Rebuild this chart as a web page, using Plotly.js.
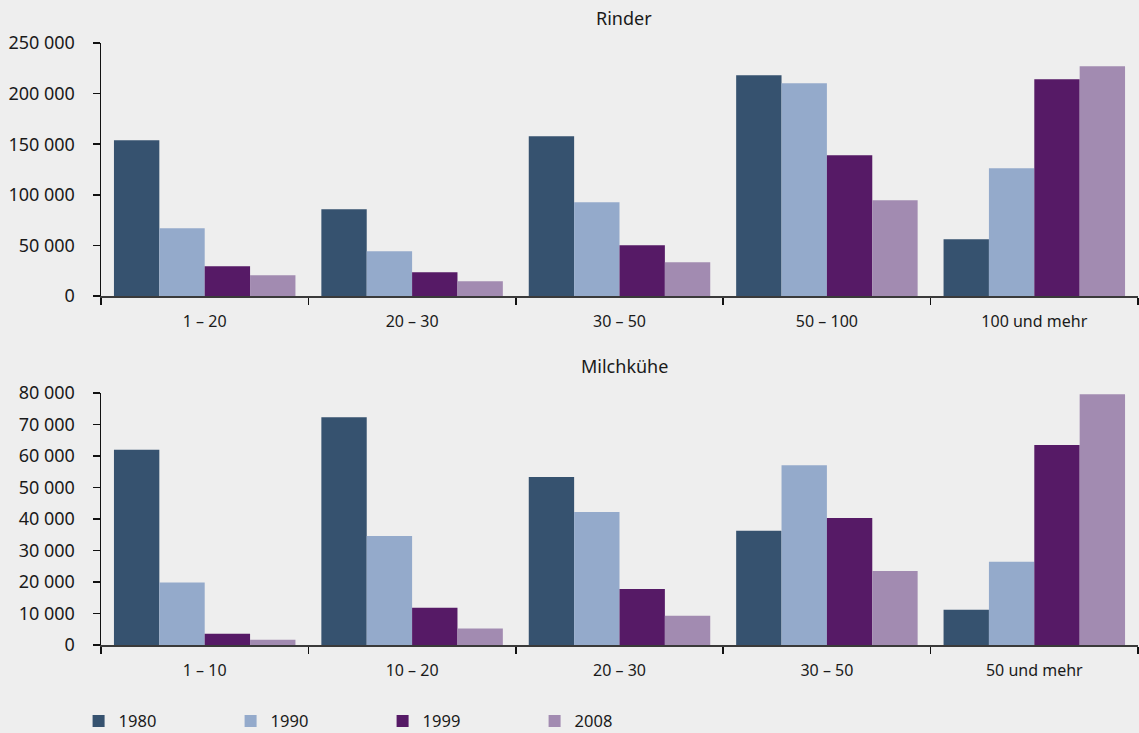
<!DOCTYPE html>
<html>
<head>
<meta charset="utf-8">
<script src="https://cdn.plot.ly/plotly-3.0.1.min.js"></script>
<style>
html,body{margin:0;padding:0;background:#eeeeee;}
#chart{width:1139px;height:733px;}
</style>
</head>
<body>
<div id="chart"></div>
<script>
// Data
const years = ['1980', '1990', '1999', '2008'];
const colors = ['#36526f', '#94aacb', '#561a66', '#a28bb1'];

const rinderCategories = ['1 – 20', '20 – 30', '30 – 50', '50 – 100', '100 und mehr'];
const rinder1980 = [154000, 85700, 157800, 218100, 56000];
const rinder1990 = [66900, 44200, 92600, 210200, 126200];
const rinder1999 = [29300, 23400, 50100, 139000, 214100];
const rinder2008 = [20400, 14500, 33300, 94600, 227000];

const milchCategories = ['1 – 10', '10 – 20', '20 – 30', '30 – 50', '50 und mehr'];
const milch1980 = [61900, 72200, 53300, 36200, 11200];
const milch1990 = [19800, 34600, 42200, 57000, 26400];
const milch1999 = [3600, 11800, 17800, 40300, 63400];
const milch2008 = [1700, 5200, 9300, 23500, 79500];

const rinderTitle = 'Rinder';
const milchTitle = 'Milchkühe';

const rinderSeries = [rinder1980, rinder1990, rinder1999, rinder2008];
const milchSeries = [milch1980, milch1990, milch1999, milch2008];

const traces = [];
years.forEach((y, i) => {
  traces.push({
    type: 'bar', name: y, x: rinderCategories, y: rinderSeries[i],
    xaxis: 'x', yaxis: 'y', marker: {color: colors[i], line: {width: 0}},
    legendgroup: y, showlegend: true, hoverinfo: 'x+y'
  });
});
years.forEach((y, i) => {
  traces.push({
    type: 'bar', name: y, x: milchCategories, y: milchSeries[i],
    xaxis: 'x2', yaxis: 'y2', marker: {color: colors[i], line: {width: 0}},
    legendgroup: y, showlegend: false, hoverinfo: 'x+y'
  });
});

const fontFam = '"Noto Sans", "Open Sans", sans-serif';
const xCommon = {
  type: 'category', showgrid: false, zeroline: false,
  showline: true, linecolor: '#3a3a3a', linewidth: 1.5,
  ticks: 'outside', tickson: 'boundaries', ticklen: 7, tickwidth: 1.5, tickcolor: '#111',
  ticklabelstandoff: 10,
  tickfont: {size: 16, color: '#1a1a1a', family: fontFam}, fixedrange: true
};
const yCommon = {
  showgrid: false, zeroline: false, showline: true, linecolor: '#111', linewidth: 1.5,
  ticks: 'outside', ticklen: 7, tickwidth: 1.5, tickcolor: '#111',
  ticklabelstandoff: 14,
  tickformat: ',d', tickfont: {size: 18, color: '#1a1a1a', family: fontFam}, fixedrange: true
};

const layout = {
  width: 1139, height: 733,
  paper_bgcolor: '#eeeeee', plot_bgcolor: '#eeeeee',
  font: {family: fontFam, color: '#1a1a1a'},
  separators: ', ',
  barmode: 'group', bargap: 0.125, bargroupgap: 0,
  margin: {l: 101, r: 1, t: 43, b: 88, autoexpand: false},
  showlegend: true,
  legend: {
    orientation: 'h', xref: 'container', yref: 'container',
    x: 0.069, xanchor: 'left', y: 0.016, yanchor: 'middle',
    entrywidth: 107, entrywidthmode: 'pixels',
    font: {size: 16.5, color: '#1a1a1a', family: fontFam},
    bgcolor: 'rgba(0,0,0,0)', traceorder: 'normal'
  },
  xaxis: Object.assign({}, xCommon, {domain: [0, 1], anchor: 'y'}),
  yaxis: Object.assign({}, yCommon, {domain: [0.5797, 1], range: [0, 250000], dtick: 50000, anchor: 'x'}),
  xaxis2: Object.assign({}, xCommon, {domain: [0, 1], anchor: 'y2'}),
  yaxis2: Object.assign({}, yCommon, {domain: [0, 0.419], range: [0, 80000], dtick: 10000, anchor: 'x2'}),
  annotations: [
    {text: rinderTitle, xref: 'paper', yref: 'paper', x: 0.5045, y: 1.0415, yanchor: 'middle', showarrow: false,
     font: {size: 18, color: '#1a1a1a', family: fontFam}},
    {text: milchTitle, xref: 'paper', yref: 'paper', x: 0.5045, y: 0.4636, yanchor: 'middle', showarrow: false,
     font: {size: 18, color: '#1a1a1a', family: fontFam}}
  ]
};

Plotly.newPlot('chart', traces, layout, {displayModeBar: false, staticPlot: true});
</script>
</body>
</html>
